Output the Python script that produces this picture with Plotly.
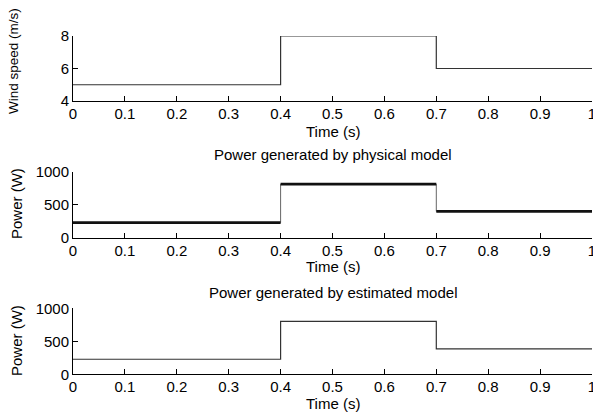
import plotly.graph_objects as go

# ---- data ----
time_breaks = [0.0, 0.4, 0.7, 1.0]
wind_speed = [5, 8, 6]            # m/s per segment
power_physical = [228, 812, 400]  # W per segment (noisy in original)
power_estimated = [228, 803, 385] # W per segment
x_ticks = [0, 0.1, 0.2, 0.3, 0.4, 0.5, 0.6, 0.7, 0.8, 0.9, 1]
x_tick_text = ["0", "0.1", "0.2", "0.3", "0.4", "0.5", "0.6", "0.7", "0.8", "0.9", "1"]


def step_xy(breaks, vals):
    xs, ys = [], []
    for i, v in enumerate(vals):
        xs += [breaks[i], breaks[i + 1]]
        ys += [v, v]
    return xs, ys


def seg_xy(breaks, vals):
    xs, ys = [], []
    for i, v in enumerate(vals):
        xs += [breaks[i], breaks[i + 1], None]
        ys += [v, v, None]
    return xs, ys


W, H = 593, 413
FONT = "Liberation Sans, Arial, sans-serif"
FS = 15

fig = go.Figure()

# subplot 1: wind speed
x1, y1 = step_xy(time_breaks, wind_speed)
fig.add_trace(go.Scatter(x=x1, y=y1, mode="lines", line=dict(color="#333", width=1.2),
                         xaxis="x", yaxis="y", showlegend=False))
# subplot 2: physical model (thick noisy band)
x2, y2 = step_xy(time_breaks, power_physical)
fig.add_trace(go.Scatter(x=x2, y=y2, mode="lines", line=dict(color="#666", width=1),
                         xaxis="x2", yaxis="y2", showlegend=False))
xs2, ys2 = seg_xy(time_breaks, power_physical)
fig.add_trace(go.Scatter(x=xs2, y=ys2, mode="lines", line=dict(color="#111", width=2.8),
                         xaxis="x2", yaxis="y2", showlegend=False, connectgaps=False))
# subplot 3: estimated model
x3, y3 = step_xy(time_breaks, power_estimated)
fig.add_trace(go.Scatter(x=x3, y=y3, mode="lines", line=dict(color="#333", width=1.2),
                         xaxis="x3", yaxis="y3", showlegend=False))


def py(pix):
    return 1 - pix / H


xdom = [73 / W, 592 / W]
common_x = dict(range=[0, 1], tickvals=x_ticks, ticktext=x_tick_text, ticks="inside",
                ticklen=5, tickcolor="black", showline=True, linecolor="black", linewidth=1,
                showgrid=False, zeroline=False, domain=xdom, ticklabeloverflow="allow",
                ticklabelstandoff=-1, automargin=False,
                tickfont=dict(family=FONT, size=FS, color="black"))
common_y = dict(ticks="inside", ticklen=5, tickcolor="black", showline=True,
                linecolor="black", linewidth=1, showgrid=False, zeroline=False,
                automargin=False,
                tickfont=dict(family=FONT, size=FS, color="black"))

fig.update_layout(
    width=W, height=H, margin=dict(l=0, r=0, t=0, b=0, autoexpand=False),
    paper_bgcolor="white", plot_bgcolor="white",
    font=dict(family=FONT, size=FS, color="black"),
    xaxis=dict(common_x, anchor="y"),
    xaxis2=dict(common_x, anchor="y2"),
    xaxis3=dict(common_x, anchor="y3"),
    yaxis=dict(common_y, range=[4, 8], tickvals=[4, 6, 8], anchor="x",
               domain=[py(101), py(36)]),
    yaxis2=dict(common_y, range=[0, 1000], tickvals=[0, 500, 1000], anchor="x2",
                domain=[py(237.7), py(171.7)]),
    yaxis3=dict(common_y, range=[0, 1000], tickvals=[0, 500, 1000], anchor="x3",
                domain=[py(374.3), py(308.3)]),
)

ann = []
xc = (xdom[0] + xdom[1]) / 2
for ypix in [131, 266, 403]:
    ann.append(dict(text="Time (s)", x=xc, y=py(ypix), xref="paper", yref="paper",
                    showarrow=False, xanchor="center", yanchor="middle",
                    font=dict(family=FONT, size=FS)))
ann.append(dict(text="Power generated by physical model", x=xc, y=py(155), xref="paper",
                yref="paper", showarrow=False, xanchor="center", yanchor="middle",
                font=dict(family=FONT, size=FS)))
ann.append(dict(text="Power generated by estimated model", x=xc, y=py(292), xref="paper",
                yref="paper", showarrow=False, xanchor="center", yanchor="middle",
                font=dict(family=FONT, size=FS)))
ann.append(dict(text="Wind speed (m/s)", x=14 / W, y=py(61), xref="paper", yref="paper",
                showarrow=False, textangle=-90, xanchor="center", yanchor="middle",
                font=dict(family=FONT, size=13.5)))
ann.append(dict(text="Power (W)", x=16 / W, y=py(204), xref="paper", yref="paper",
                showarrow=False, textangle=-90, xanchor="center", yanchor="middle",
                font=dict(family=FONT, size=FS)))
ann.append(dict(text="Power (W)", x=16 / W, y=py(341), xref="paper", yref="paper",
                showarrow=False, textangle=-90, xanchor="center", yanchor="middle",
                font=dict(family=FONT, size=FS)))
fig.update_layout(annotations=ann)

fig.write_html("out.html")
